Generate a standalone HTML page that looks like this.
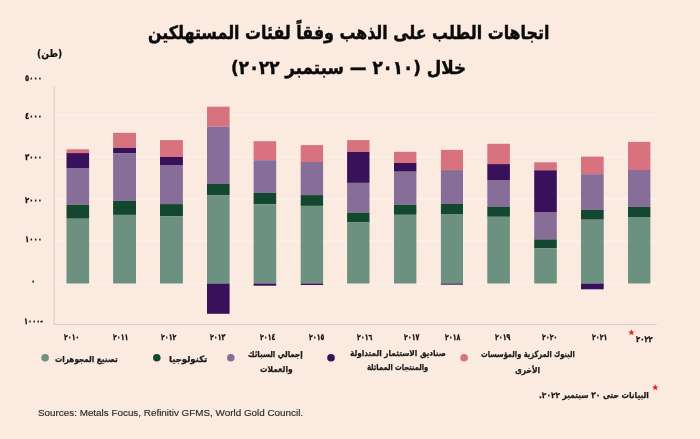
<!DOCTYPE html>
<html lang="ar">
<head>
<meta charset="utf-8">
<title>اتجاهات الطلب على الذهب</title>
<style>
html,body{margin:0;padding:0;}
body{width:700px;height:439px;overflow:hidden;background:#FAEAE0;position:relative;font-family:"DejaVu Sans","Liberation Sans",sans-serif;}
.chart{position:absolute;left:0;top:0;}
.t{position:absolute;direction:rtl;white-space:nowrap;color:#111;font-weight:bold;line-height:1;transform-origin:0 0;}
.title{color:#0a0a0a;-webkit-text-stroke:0.45px #0a0a0a;}
.yl,.xl{-webkit-text-stroke:0.3px #111;}
.unit{-webkit-text-stroke:0.2px #111;}
.lg,.fn{color:#1a1a1a;-webkit-text-stroke:0.25px #1a1a1a;}
.src{direction:ltr;font-family:"Liberation Sans",sans-serif;font-weight:normal;color:#2b2b2b;-webkit-text-stroke:0.15px #2b2b2b;}
</style>
</head>
<body>
<svg class="chart" width="700" height="439" viewBox="0 0 700 439">
<rect x="54.5" y="113.9" width="602" height="1.6" fill="#FCF1EA"/>
<rect x="54.5" y="156.1" width="602" height="1.6" fill="#FCF1EA"/>
<rect x="54.5" y="198.3" width="602" height="1.6" fill="#FCF1EA"/>
<rect x="54.5" y="240.5" width="602" height="1.6" fill="#FCF1EA"/>
<rect x="54.5" y="282.7" width="602" height="1.6" fill="#FCF1EA"/>
<rect x="53.7" y="86" width="1" height="239" fill="#D8CEC6"/>
<rect x="53.7" y="324" width="603" height="1" fill="#D3CCC6"/>
<rect x="66.5" y="149.3" width="22.6" height="3.8" fill="#D9727F"/>
<rect x="66.5" y="153.1" width="22.6" height="14.9" fill="#38115A"/>
<rect x="66.5" y="168.0" width="22.6" height="36.8" fill="#866E99"/>
<rect x="66.5" y="204.8" width="22.6" height="13.9" fill="#13472F"/>
<rect x="66.5" y="218.7" width="22.6" height="64.8" fill="#6C9181"/>
<rect x="113.1" y="132.8" width="22.9" height="15.1" fill="#D9727F"/>
<rect x="113.1" y="147.9" width="22.9" height="5.2" fill="#38115A"/>
<rect x="113.1" y="153.1" width="22.9" height="47.8" fill="#866E99"/>
<rect x="113.1" y="200.9" width="22.9" height="14.0" fill="#13472F"/>
<rect x="113.1" y="214.9" width="22.9" height="68.6" fill="#6C9181"/>
<rect x="160.0" y="140.1" width="22.9" height="16.9" fill="#D9727F"/>
<rect x="160.0" y="157.0" width="22.9" height="8.0" fill="#38115A"/>
<rect x="160.0" y="165.0" width="22.9" height="39.1" fill="#866E99"/>
<rect x="160.0" y="204.1" width="22.9" height="12.4" fill="#13472F"/>
<rect x="160.0" y="216.5" width="22.9" height="67.0" fill="#6C9181"/>
<rect x="207.0" y="106.7" width="22.6" height="19.9" fill="#D9727F"/>
<rect x="207.0" y="126.6" width="22.6" height="57.3" fill="#866E99"/>
<rect x="207.0" y="183.9" width="22.6" height="11.2" fill="#13472F"/>
<rect x="207.0" y="195.1" width="22.6" height="88.4" fill="#6C9181"/>
<rect x="207.0" y="283.5" width="22.6" height="30.3" fill="#38115A"/>
<rect x="253.6" y="141.2" width="22.6" height="19.0" fill="#D9727F"/>
<rect x="253.6" y="160.2" width="22.6" height="32.7" fill="#866E99"/>
<rect x="253.6" y="192.9" width="22.6" height="11.4" fill="#13472F"/>
<rect x="253.6" y="204.3" width="22.6" height="79.2" fill="#6C9181"/>
<rect x="253.6" y="283.5" width="22.6" height="2.2" fill="#38115A"/>
<rect x="300.7" y="145.1" width="22.4" height="16.9" fill="#D9727F"/>
<rect x="300.7" y="162.0" width="22.4" height="33.1" fill="#866E99"/>
<rect x="300.7" y="195.1" width="22.4" height="10.8" fill="#13472F"/>
<rect x="300.7" y="205.9" width="22.4" height="77.6" fill="#6C9181"/>
<rect x="300.7" y="283.5" width="22.4" height="1.5" fill="#38115A"/>
<rect x="347.1" y="140.1" width="22.4" height="11.9" fill="#D9727F"/>
<rect x="347.1" y="152.0" width="22.4" height="30.9" fill="#38115A"/>
<rect x="347.1" y="182.9" width="22.4" height="29.7" fill="#866E99"/>
<rect x="347.1" y="212.6" width="22.4" height="9.9" fill="#13472F"/>
<rect x="347.1" y="222.5" width="22.4" height="61.0" fill="#6C9181"/>
<rect x="394.0" y="151.8" width="22.4" height="11.2" fill="#D9727F"/>
<rect x="394.0" y="163.0" width="22.4" height="8.7" fill="#38115A"/>
<rect x="394.0" y="171.7" width="22.4" height="33.1" fill="#866E99"/>
<rect x="394.0" y="204.8" width="22.4" height="10.0" fill="#13472F"/>
<rect x="394.0" y="214.8" width="22.4" height="68.7" fill="#6C9181"/>
<rect x="440.9" y="149.9" width="22.1" height="20.2" fill="#D9727F"/>
<rect x="440.9" y="170.1" width="22.1" height="33.8" fill="#866E99"/>
<rect x="440.9" y="203.9" width="22.1" height="10.1" fill="#13472F"/>
<rect x="440.9" y="214.0" width="22.1" height="69.5" fill="#6C9181"/>
<rect x="440.9" y="283.5" width="22.1" height="1.2" fill="#38115A"/>
<rect x="487.3" y="143.8" width="22.6" height="20.3" fill="#D9727F"/>
<rect x="487.3" y="164.1" width="22.6" height="16.5" fill="#38115A"/>
<rect x="487.3" y="180.6" width="22.6" height="26.0" fill="#866E99"/>
<rect x="487.3" y="206.6" width="22.6" height="10.2" fill="#13472F"/>
<rect x="487.3" y="216.8" width="22.6" height="66.7" fill="#6C9181"/>
<rect x="534.2" y="162.3" width="22.6" height="8.0" fill="#D9727F"/>
<rect x="534.2" y="170.3" width="22.6" height="42.3" fill="#38115A"/>
<rect x="534.2" y="212.6" width="22.6" height="26.8" fill="#866E99"/>
<rect x="534.2" y="239.4" width="22.6" height="8.7" fill="#13472F"/>
<rect x="534.2" y="248.1" width="22.6" height="35.4" fill="#6C9181"/>
<rect x="581.0" y="156.6" width="22.7" height="17.6" fill="#D9727F"/>
<rect x="581.0" y="174.2" width="22.7" height="35.7" fill="#866E99"/>
<rect x="581.0" y="209.9" width="22.7" height="9.8" fill="#13472F"/>
<rect x="581.0" y="219.7" width="22.7" height="63.8" fill="#6C9181"/>
<rect x="581.0" y="283.5" width="22.7" height="5.8" fill="#38115A"/>
<rect x="628.0" y="141.9" width="22.4" height="28.1" fill="#D9727F"/>
<rect x="628.0" y="170.0" width="22.4" height="36.9" fill="#866E99"/>
<rect x="628.0" y="206.9" width="22.4" height="10.1" fill="#13472F"/>
<rect x="628.0" y="217.0" width="22.4" height="66.5" fill="#6C9181"/>
<circle cx="45.1" cy="357.8" r="3.8" fill="#6C9181"/>
<circle cx="156.8" cy="357.8" r="3.8" fill="#13472F"/>
<circle cx="230.8" cy="357.8" r="3.8" fill="#866E99"/>
<circle cx="331" cy="357.8" r="3.8" fill="#38115A"/>
<circle cx="464.1" cy="357.8" r="3.8" fill="#D9727F"/>
<polygon points="631.40,329.20 632.24,331.44 634.63,331.55 632.76,333.04 633.40,335.35 631.40,334.03 629.40,335.35 630.04,333.04 628.17,331.55 630.56,331.44" fill="#E8202A"/>
<polygon points="655.30,384.20 656.14,386.44 658.53,386.55 656.66,388.04 657.30,390.35 655.30,389.03 653.30,390.35 653.94,388.04 652.07,386.55 654.46,386.44" fill="#E8202A"/>
</svg>
<div class="t title" style="left:147.5px;top:23.6px;font-size:18.5px;transform:scaleX(0.857);">اتجاهات الطلب على الذهب وفقاً لفئات المستهلكين</div>
<div class="t title" style="left:231.0px;top:58.9px;font-size:18.5px;transform:scaleX(0.905);">خلال (٢٠١٠ — سبتمبر ٢٠٢٢)</div>
<div class="t unit" style="left:36.9px;top:49.3px;font-size:10px;transform:scaleX(0.914);">(طن)</div>
<div class="t yl" style="left:24.9px;top:74.3px;font-size:8.5px;transform:scaleX(0.814);">٥٠٠٠</div>
<div class="t yl" style="left:24.9px;top:111.9px;font-size:8.5px;transform:scaleX(0.814);">٤٠٠٠</div>
<div class="t yl" style="left:24.9px;top:153.3px;font-size:8.5px;transform:scaleX(0.814);">٣٠٠٠</div>
<div class="t yl" style="left:24.9px;top:196.4px;font-size:8.5px;transform:scaleX(0.814);">٢٠٠٠</div>
<div class="t yl" style="left:24.9px;top:235.1px;font-size:8.5px;transform:scaleX(0.814);">١٠٠٠</div>
<div class="t yl" style="left:31.3px;top:277.0px;font-size:8.5px;transform:scaleX(0.846);">٠</div>
<div class="t yl" style="left:23.7px;top:317.0px;font-size:8.5px;transform:scaleX(0.786);">-١٠٠٠</div>
<div class="t xl" style="left:63.5px;top:333.1px;font-size:8.5px;transform:scaleX(0.742);">٢٠١٠</div>
<div class="t xl" style="left:113.0px;top:333.1px;font-size:8.5px;transform:scaleX(0.742);">٢٠١١</div>
<div class="t xl" style="left:160.6px;top:333.1px;font-size:8.5px;transform:scaleX(0.742);">٢٠١٢</div>
<div class="t xl" style="left:210.3px;top:333.1px;font-size:8.5px;transform:scaleX(0.742);">٢٠١٣</div>
<div class="t xl" style="left:259.5px;top:333.1px;font-size:8.5px;transform:scaleX(0.742);">٢٠١٤</div>
<div class="t xl" style="left:309.3px;top:333.1px;font-size:8.5px;transform:scaleX(0.742);">٢٠١٥</div>
<div class="t xl" style="left:357.3px;top:333.1px;font-size:8.5px;transform:scaleX(0.742);">٢٠١٦</div>
<div class="t xl" style="left:404.0px;top:333.1px;font-size:8.5px;transform:scaleX(0.742);">٢٠١٧</div>
<div class="t xl" style="left:445.3px;top:333.1px;font-size:8.5px;transform:scaleX(0.742);">٢٠١٨</div>
<div class="t xl" style="left:494.9px;top:333.1px;font-size:8.5px;transform:scaleX(0.742);">٢٠١٩</div>
<div class="t xl" style="left:542.3px;top:333.1px;font-size:8.5px;transform:scaleX(0.742);">٢٠٢٠</div>
<div class="t xl" style="left:592.0px;top:333.1px;font-size:8.5px;transform:scaleX(0.742);">٢٠٢١</div>
<div class="t xl" style="left:636.0px;top:335.2px;font-size:8.5px;transform:scaleX(0.809);">٢٠٢٢</div>
<div class="t lg" style="left:55.4px;top:354.8px;font-size:8.5px;transform:scaleX(0.856);">تصنيع المجوهرات</div>
<div class="t lg" style="left:169.4px;top:354.8px;font-size:8.5px;transform:scaleX(1.001);">تكنولوجيا</div>
<div class="t lg" style="left:248.4px;top:350.3px;font-size:8.5px;transform:scaleX(0.839);">إجمالي السبائك</div>
<div class="t lg" style="left:259.7px;top:365.3px;font-size:8.5px;transform:scaleX(0.886);">والعملات</div>
<div class="t lg" style="left:349.9px;top:349.3px;font-size:8.5px;transform:scaleX(0.863);">صناديق الاستثمار المتداولة</div>
<div class="t lg" style="left:367.2px;top:363.3px;font-size:8.5px;transform:scaleX(0.792);">والمنتجات المماثلة</div>
<div class="t lg" style="left:480.5px;top:350.3px;font-size:8.5px;transform:scaleX(0.788);">البنوك المركزية والمؤسسات</div>
<div class="t lg" style="left:514.5px;top:366.3px;font-size:8.5px;transform:scaleX(0.882);">الأخرى</div>
<div class="t fn" style="left:538.7px;top:390.8px;font-size:8.5px;transform:scaleX(0.876);">البيانات حتى ٣٠ سبتمبر ٢٠٢٢.</div>
<div class="t src" style="left:37.6px;top:408.4px;font-size:9.6px;transform:scaleX(1.028);">Sources: Metals Focus, Refinitiv GFMS, World Gold Council.</div>
</body>
</html>
